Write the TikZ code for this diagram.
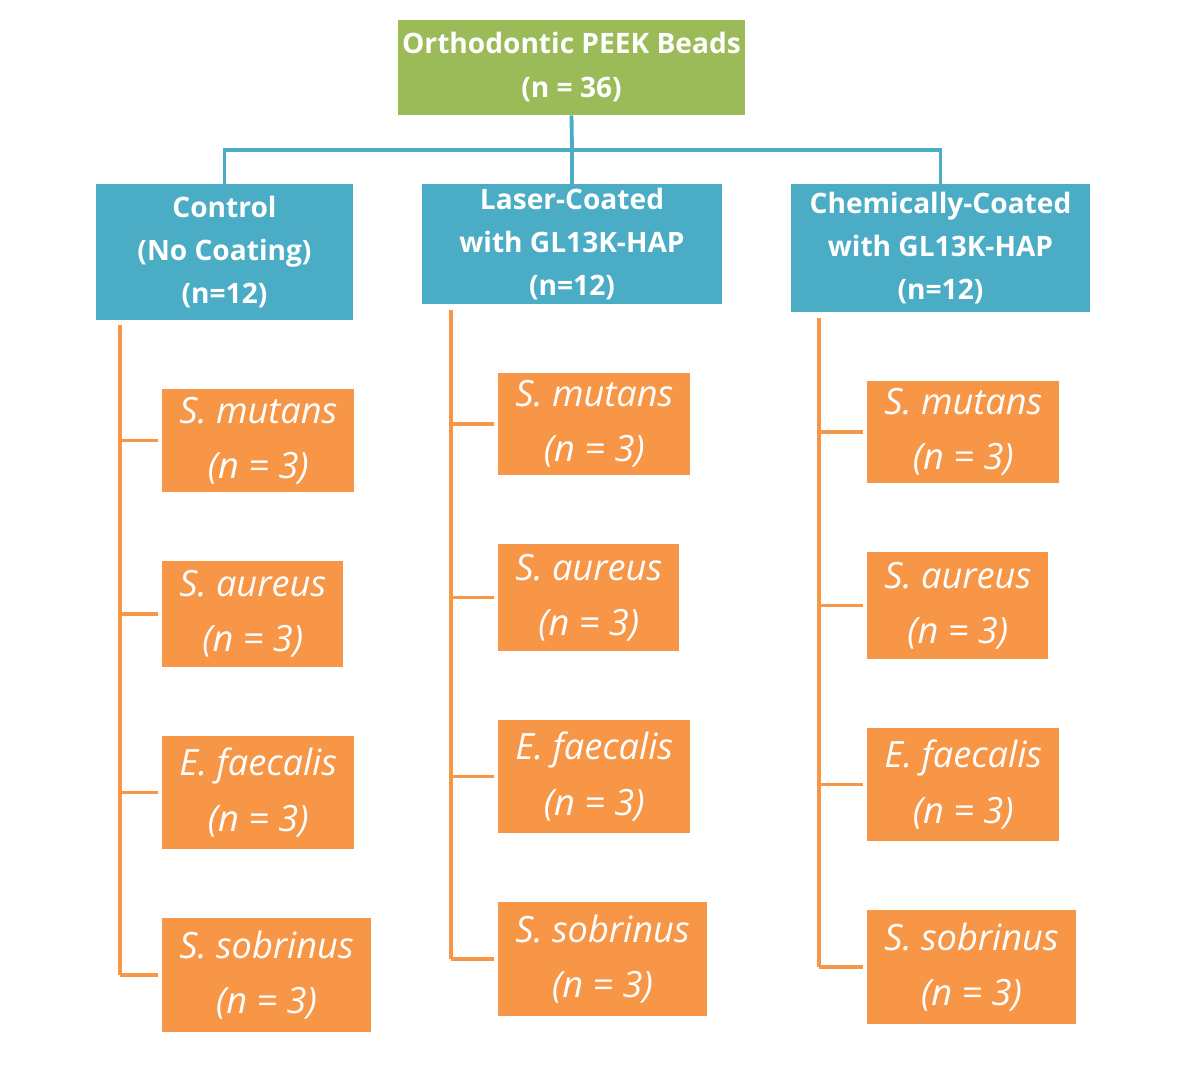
\documentclass[tikz,border=0pt]{standalone}
\usepackage{fontspec}
\setmainfont{Open Sans}
\usetikzlibrary{positioning}
\definecolor{beadgreen}{HTML}{9BBB59}
\definecolor{groupblue}{HTML}{4BACC6}
\definecolor{strainorange}{HTML}{F79646}
\tikzset{
  rootbox/.style={fill=beadgreen, text=white, align=center, inner sep=0pt,
    font=\fontsize{16}{25}\selectfont\bfseries},
  groupbox/.style={fill=groupblue, text=white, align=center, inner sep=0pt,
    font=\fontsize{16}{24.4}\selectfont\bfseries},
  strainbox/.style={fill=strainorange, text=white, align=center, anchor=west,
    inner xsep=0.34cm, inner ysep=0pt, font=\fontsize{20.6}{31.5}\selectfont\itshape},
  bluelink/.style={draw=groupblue, line width=2.2pt},
  orangelink/.style={draw=strainorange, line width=2.1pt}
}
\begin{document}
\begin{tikzpicture}[x=0.02cm, y=-0.02cm]
      \useasboundingbox (0,0) rectangle (1188,1065);
      % top of the tree
      \path (571.5,67.5) node[rootbox, minimum width=6.94cm, minimum height=1.9cm] (beads)
        {Orthodontic PEEK Beads\\(n = 36)};
      % the three groups
      \path (224.5,252) node[groupbox, minimum width=5.14cm, minimum height=2.72cm] (ctrl)
        {Control\\(No Coating)\\(n=12)};
      \path (572,244) node[groupbox, minimum width=6.0cm, minimum height=2.4cm] (laser)
        {Laser-Coated\\with GL13K-HAP\\(n=12)};
      \path (940.5,248) node[groupbox, minimum width=5.98cm, minimum height=2.56cm] (chem)
        {Chemically-Coated\\with GL13K-HAP\\(n=12)};
      \coordinate (split) at (572,150);
      \draw[bluelink] (beads.south) -- (split);
      \draw[bluelink] (laser.north) -- (split);
      \draw[bluelink] (ctrl.north) |- (split);
      \draw[bluelink] (chem.north) |- (split);
      % strains, control
      \path (162,440.5) node[strainbox, minimum height=2.06cm] (ctrl-mutans) {S. mutans\\(n = 3)};
      \path (162,614) node[strainbox, minimum height=2.12cm] (ctrl-aureus) {S. aureus\\(n = 3)};
      \path (162,792.5) node[strainbox, minimum height=2.26cm] (ctrl-faecalis) {E. faecalis\\(n = 3)};
      \path (162,975) node[strainbox, minimum height=2.28cm] (ctrl-sobrinus) {S. sobrinus\\(n = 3)};
      % strains, laser
      \path (498,424) node[strainbox, minimum height=2.04cm] (laser-mutans) {S. mutans\\(n = 3)};
      \path (498,597.5) node[strainbox, minimum height=2.14cm] (laser-aureus) {S. aureus\\(n = 3)};
      \path (498,776.5) node[strainbox, minimum height=2.26cm] (laser-faecalis) {E. faecalis\\(n = 3)};
      \path (498,959) node[strainbox, minimum height=2.28cm] (laser-sobrinus) {S. sobrinus\\(n = 3)};
      % strains, chemical
      \path (867,432) node[strainbox, minimum height=2.04cm] (chem-mutans) {S. mutans\\(n = 3)};
      \path (867,605.5) node[strainbox, minimum height=2.14cm] (chem-aureus) {S. aureus\\(n = 3)};
      \path (867,784.5) node[strainbox, minimum height=2.26cm] (chem-faecalis) {E. faecalis\\(n = 3)};
      \path (867,967) node[strainbox, minimum height=2.28cm] (chem-sobrinus) {S. sobrinus\\(n = 3)};
      % spines
      \coordinate (ctrl-spine) at (120,325);
      \coordinate (laser-spine) at (451,310);
      \coordinate (chem-spine) at (819,318);
      \foreach \g in {ctrl,laser,chem} {
        \draw[orangelink] (\g-spine) -- (\g-spine |- \g-sobrinus.west);
        \foreach \s in {mutans,aureus,faecalis,sobrinus}
          \draw[orangelink] (\g-spine |- \g-\s.west) -- ([xshift=-0.08cm]\g-\s.west);
      }
\end{tikzpicture}
\end{document}
